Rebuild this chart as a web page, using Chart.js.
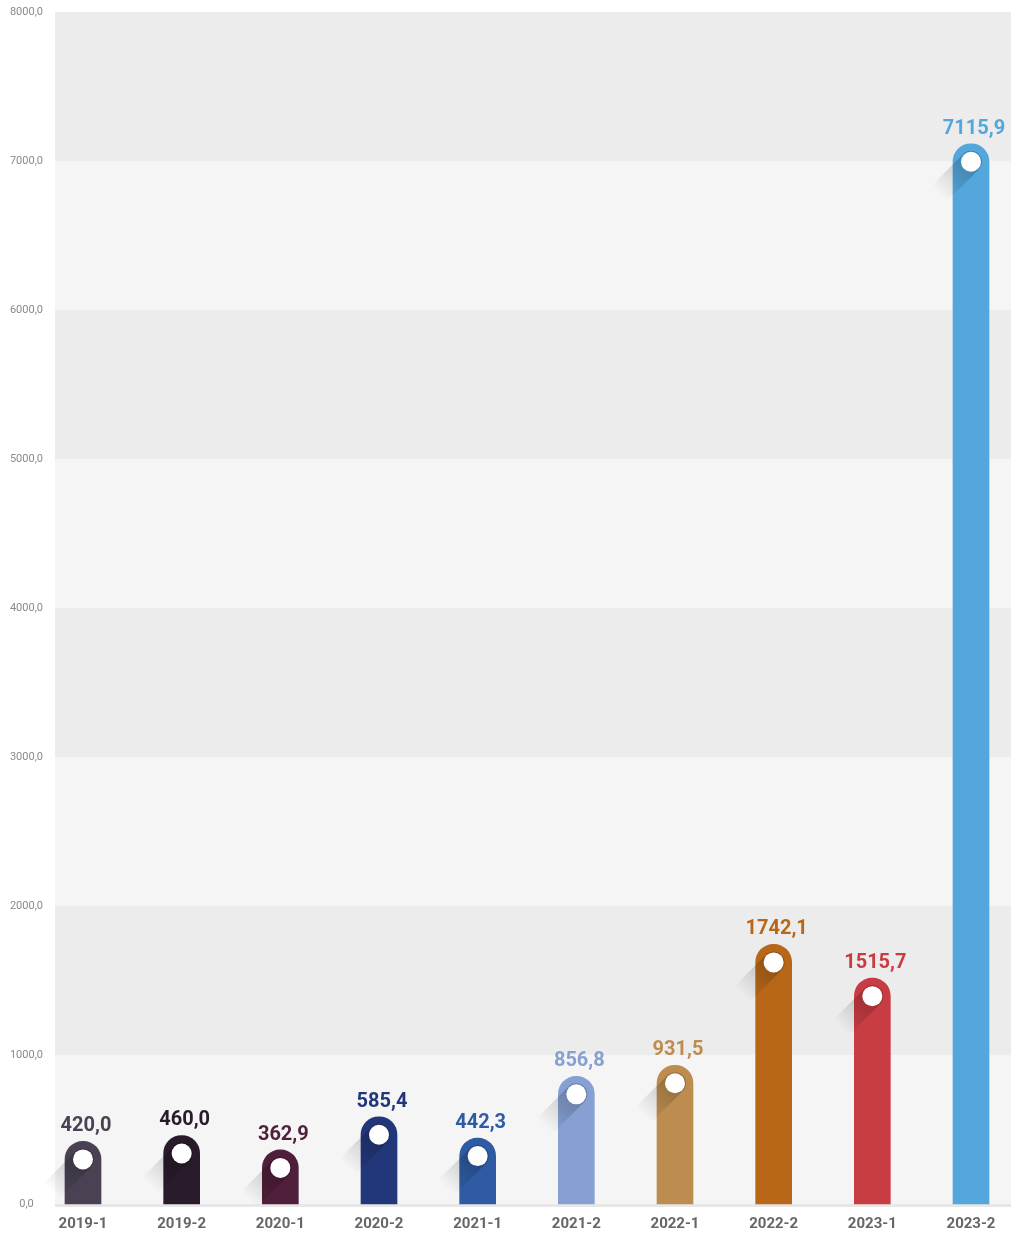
<!DOCTYPE html>
<html>
<head>
<meta charset="utf-8">
<script src="https://cdn.jsdelivr.net/npm/chart.js@4"></script>
<style>
  html, body { margin: 0; padding: 0; background: #fff; }
  #wrap { position: relative; width: 1011px; height: 1237px; }
</style>
</head>
<body>
<div id="wrap"><canvas id="barChart"></canvas></div>
<script>
// periods and values
const periods = ["2019-1", "2019-2", "2020-1", "2020-2", "2021-1", "2021-2", "2022-1", "2022-2", "2023-1", "2023-2"];
const values = [420.0, 460.0, 362.9, 585.4, 442.3, 856.8, 931.5, 1742.1, 1515.7, 7115.9];
const barColors = ["#4a4252", "#2a1b2b", "#4f1f3b", "#22367a", "#2f5ba4", "#86a0d3", "#bd8d50", "#b86718", "#c83c43", "#53a7dc"];
const yTicks = [0, 1000, 2000, 3000, 4000, 5000, 6000, 7000, 8000];

const fmt = v => v.toFixed(1).replace('.', ',');

// bands behind the bars
const bandPlugin = {
  id: 'bands',
  beforeDatasetsDraw(chart) {
    const ctx = chart.ctx, y = chart.scales.y;
    const left = 55, right = chart.width;
    ctx.save();
    for (let i = 0; i < yTicks.length - 1; i++) {
      const top = y.getPixelForValue(yTicks[i + 1]);
      const bot = y.getPixelForValue(yTicks[i]);
      ctx.fillStyle = (i % 2 === 0) ? '#f5f5f5' : '#ececec';
      ctx.fillRect(left, top, right - left, bot - top);
    }
    const base = y.getPixelForValue(0);
    ctx.fillStyle = '#e7e7e7';
    ctx.fillRect(left, base, right - left, 3);
    ctx.restore();
  }
};

// white dot, its shadow and the value on top
const markPlugin = {
  id: 'marks',
  afterDatasetsDraw(chart) {
    const ctx = chart.ctx;
    const meta = chart.getDatasetMeta(0);
    ctx.save();
    meta.data.forEach((bar, i) => {
      const cx = bar.x, cy = bar.y + 18;
      const g = ctx.createLinearGradient(cx, cy, cx - 32, cy + 32);
      g.addColorStop(0, 'rgba(0,0,0,0.22)');
      g.addColorStop(1, 'rgba(0,0,0,0)');
      ctx.strokeStyle = g;
      ctx.lineWidth = 22;
      ctx.lineCap = 'round';
      ctx.beginPath();
      ctx.moveTo(cx, cy);
      ctx.lineTo(cx - 28, cy + 28);
      ctx.stroke();

      ctx.fillStyle = '#fff';
      ctx.beginPath();
      ctx.arc(cx, cy, 10, 0, Math.PI * 2);
      ctx.fill();

      ctx.fillStyle = barColors[i];
      ctx.font = 'bold 20px Roboto';
      ctx.textAlign = 'center';
      ctx.textBaseline = 'middle';
      ctx.fillText(fmt(values[i]), cx + 3, bar.y - 15);
    });
    ctx.restore();
  }
};

new Chart(document.getElementById('barChart').getContext('2d'), {
  type: 'bar',
  data: {
    labels: periods,
    datasets: [{
      data: values,
      backgroundColor: barColors,
      barThickness: 36,
      clip: false,
      borderSkipped: 'bottom',
      borderRadius: { topLeft: 18, topRight: 18, bottomLeft: 0, bottomRight: 0 }
    }]
  },
  options: {
    responsive: true,
    maintainAspectRatio: false,
    animation: false,
    layout: { padding: { top: 12, right: 40, bottom: 4, left: 7 } },
    plugins: { legend: { display: false }, tooltip: { enabled: false } },
    scales: {
      x: {
        offset: false,
        grid: { display: false, drawTicks: false },
        border: { display: false },
        ticks: { padding: 11, color: '#666', font: { family: 'Roboto', weight: 'bold', size: 15 }, maxRotation: 0, autoSkip: false },
        afterFit: axis => { axis.height = 29; axis.paddingLeft = 0; axis.paddingRight = 0; }
      },
      y: {
        min: 0, max: 8000,
        grid: { display: false, drawTicks: false },
        border: { display: false },
        ticks: { stepSize: 1000, padding: 40, crossAlign: 'center', color: '#8a8a8a', font: { family: 'Roboto', size: 11 }, callback: v => fmt(v) },
        afterFit: axis => { axis.width = 76; axis.paddingTop = 0; axis.paddingBottom = 0; }
      }
    }
  },
  plugins: [bandPlugin, markPlugin]
});
</script>
</body>
</html>
